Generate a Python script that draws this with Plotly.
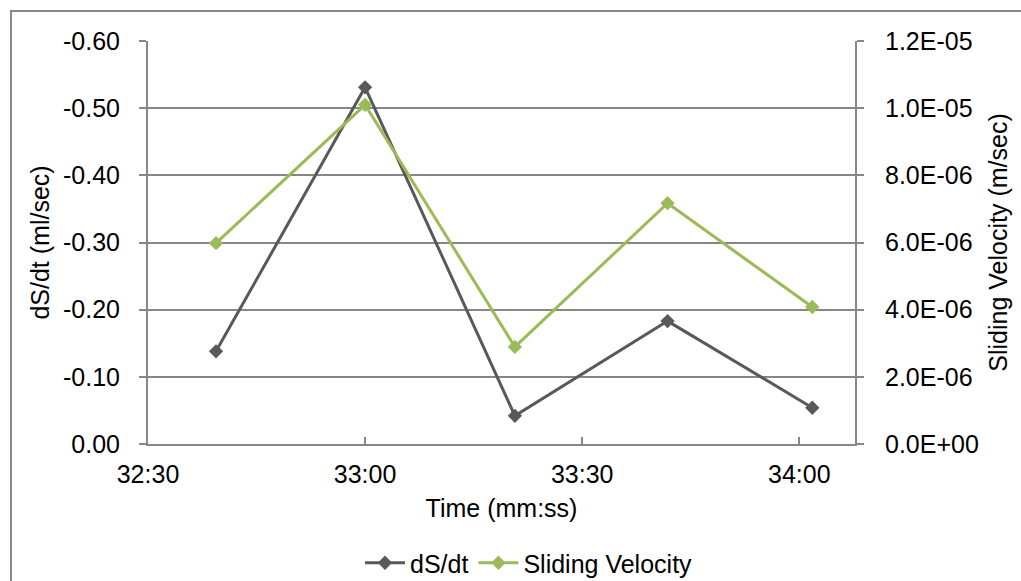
import plotly.graph_objects as go

# Sample times (mm:ss.s) and the two measured series
times = ["32:39.4", "33:00.0", "33:20.7", "33:41.8", "34:01.8"]
ds_dt = [-0.138, -0.531, -0.042, -0.183, -0.054]          # ml/sec
sliding_velocity = [5.98e-6, 1.01e-5, 2.89e-6, 7.17e-6, 4.08e-6]  # m/sec

x_ticks = ["32:30", "33:00", "33:30", "34:00"]
x_end = "34:07.7"
left_ticks = [0.0, -0.1, -0.2, -0.3, -0.4, -0.5, -0.6]
left_tick_text = ["0.00", "-0.10", "-0.20", "-0.30", "-0.40", "-0.50", "-0.60"]
right_ticks = [0.0, 2e-6, 4e-6, 6e-6, 8e-6, 1e-5, 1.2e-5]
right_tick_text = ["0.0E+00", "2.0E-06", "4.0E-06", "6.0E-06", "8.0E-06", "1.0E-05", "1.2E-05"]


def to_date(mmss):
    m, s = mmss.split(":")
    sec = float(s)
    whole = int(sec)
    frac = round((sec - whole) * 1000)
    return f"1970-01-01 00:{int(m):02d}:{whole:02d}.{frac:03d}"


xs = [to_date(t) for t in times]

GRID = "#878787"
FONT = "Liberation Sans, Arial, sans-serif"
FS = 25

fig = go.Figure()
fig.add_trace(go.Scatter(
    x=xs, y=ds_dt, name="dS/dt", mode="lines+markers",
    line=dict(color="#595959", width=3),
    marker=dict(symbol="diamond", size=11, color="#595959"),
    yaxis="y",
))
fig.add_trace(go.Scatter(
    x=xs, y=sliding_velocity, name="Sliding Velocity", mode="lines+markers",
    line=dict(color="#9BBB59", width=3),
    marker=dict(symbol="diamond", size=11, color="#9BBB59"),
    yaxis="y2",
))

W, H = 1021, 581
L, R, T, B = 148, 166, 41, 137
pw, ph = W - L - R, H - T - B

fig.update_layout(
    width=W, height=H,
    margin=dict(l=L, r=R, t=T, b=B, pad=0, autoexpand=False),
    paper_bgcolor="white", plot_bgcolor="white",
    font=dict(family=FONT, size=FS, color="black"),
    showlegend=True,
    legend=dict(
        orientation="h", x=(529 - L) / pw, xanchor="center",
        y=(H - B - 563) / ph, yanchor="middle",
        font=dict(size=FS), itemwidth=40, tracegroupgap=0,
    ),
    xaxis=dict(
        type="date", automargin=False,
        range=[to_date("32:30"), to_date(x_end)],
        tickvals=[to_date(t) for t in x_ticks],
        ticktext=x_ticks,
        ticks="inside", ticklen=7, tickcolor=GRID, tickwidth=2,
        showline=True, linecolor=GRID, linewidth=2,
        showgrid=False, zeroline=False,
        ticklabelstandoff=7,
        title=dict(text="Time (mm:ss)", standoff=12, font=dict(size=FS)),
    ),
    yaxis=dict(
        automargin=False,
        range=[0, -0.6],
        tickvals=left_ticks, ticktext=left_tick_text,
        ticks="outside", ticklen=7, tickcolor=GRID, tickwidth=2,
        showline=True, linecolor=GRID, linewidth=2,
        showgrid=True, gridcolor=GRID, gridwidth=2,
        zeroline=False,
        ticklabelstandoff=14,
        title=dict(text="dS/dt (ml/sec)", standoff=6, font=dict(size=FS)),
    ),
    yaxis2=dict(
        automargin=False,
        overlaying="y", side="right",
        range=[0, 1.2e-5],
        tickvals=right_ticks, ticktext=right_tick_text,
        ticks="outside", ticklen=7, tickcolor=GRID, tickwidth=2,
        showline=True, linecolor=GRID, linewidth=2,
        showgrid=False, zeroline=False,
        ticklabelstandoff=16,
        title=dict(text="Sliding Velocity (m/sec)", standoff=12, font=dict(size=FS)),
    ),
    shapes=[dict(
        type="rect", xref="paper", yref="paper",
        x0=(11 - L) / pw, x1=(W + 20 - L) / pw,
        y0=(H - B - (H + 20)) / ph, y1=(H - B - 11) / ph,
        line=dict(color="#888888", width=2), fillcolor="rgba(0,0,0,0)",
        layer="below",
    )],
)

fig.write_html("out.html")
